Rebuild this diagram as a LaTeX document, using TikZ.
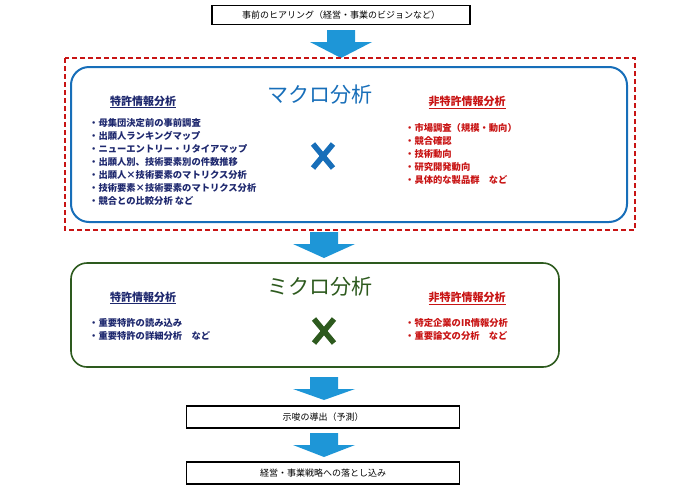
\documentclass[tikz,border=0pt]{standalone}
\usepackage{fontspec}
\setmainfont{Noto Sans CJK JP}
\begin{document}
\begin{tikzpicture}[x=1pt,y=-1pt,
 box/.style={draw,line width=1.2pt,minimum height=19pt,inner sep=0pt,font=\fontsize{9}{10}\selectfont},
 arr/.style={fill={rgb,255:red,30;green,150;blue,215}},
 head/.style={font=\bfseries\fontsize{11}{12}\selectfont},
 ttl/.style={font=\fontsize{21}{22}\selectfont},
 cross/.style={line width=5.5pt},
 lst/.style={font=\bfseries\fontsize{9.3}{13}\selectfont,align=left,anchor=north west,inner sep=0pt}]
\definecolor{mblue}{RGB}{23,110,185}
\definecolor{navy}{RGB}{30,40,110}
\definecolor{dred}{RGB}{200,20,20}
\definecolor{mgreen}{RGB}{45,90,30}
\useasboundingbox (0,0) rectangle (677,493);
\node[box,minimum width=258pt] (b1) at (341,15) {事前のヒアリング（経営・事業のビジョンなど）};
\def\arrow#1#2#3{\fill[arr] (#1-14,#2) rectangle (#1+14,#2+12) (#1-31,#2+12) -- (#1+31,#2+12) -- (#1,#3) -- cycle;}
\arrow{341}{30}{58}
\draw[dred,line width=1.6pt,dash pattern=on 5pt off 3pt] (65,58) rectangle (635,230);
\draw[mblue,line width=2pt,rounded corners=18pt] (71,67) rectangle (627,222);
\node[mblue,ttl] (t1) at (320,95) {マクロ分析};
\node[head,navy] (h1) at (143,102) {\underline{特許情報分析}};
\node[head,dred] (h2) at (467,102) {\underline{非特許情報分析}};
\node[lst,navy] (l1) at (89,118) {・母集団決定前の事前調査\\・出願人ランキングマップ\\・ニューエントリー・リタイアマップ\\・出願人別、技術要素別の件数推移\\・出願人×技術要素のマトリクス分析\\・技術要素×技術要素のマトリクス分析\\・競合との比較分析 など};
\node[lst,dred] (l2) at (405,123) {・市場調査（規模・動向）\\・競合確認\\・技術動向\\・研究開発動向\\・具体的な製品群　など};
\coordinate (x1) at (323,156);
\draw[mblue,cross] ([shift={(-10,-12)}]x1) -- ([shift={(10,12)}]x1) ([shift={(10,-12)}]x1) -- ([shift={(-10,12)}]x1);
\arrow{324}{232}{258}
\draw[mgreen,line width=1.6pt,rounded corners=16pt] (71,263) rectangle (559,367);
\node[mgreen,ttl] (t2) at (320,287) {ミクロ分析};
\node[head,navy] (h3) at (143,298) {\underline{特許情報分析}};
\node[head,dred] (h4) at (467,298) {\underline{非特許情報分析}};
\node[lst,navy] (l3) at (89,318) {・重要特許の読み込み\\・重要特許の詳細分析　など};
\node[lst,dred] (l4) at (405,318) {・特定企業のIR情報分析\\・重要論文の分析　など};
\coordinate (x2) at (324,331);
\draw[mgreen,cross] ([shift={(-10,-12)}]x2) -- ([shift={(10,12)}]x2) ([shift={(10,-12)}]x2) -- ([shift={(-10,12)}]x2);
\arrow{324}{377}{400}
\node[box,minimum width=273pt,minimum height=22pt] (b2) at (323,417) {示唆の導出（予測）};
\arrow{324}{433}{457}
\node[box,minimum width=273pt,minimum height=22pt] (b3) at (323,473) {経営・事業戦略への落とし込み};
\end{tikzpicture}
\end{document}
